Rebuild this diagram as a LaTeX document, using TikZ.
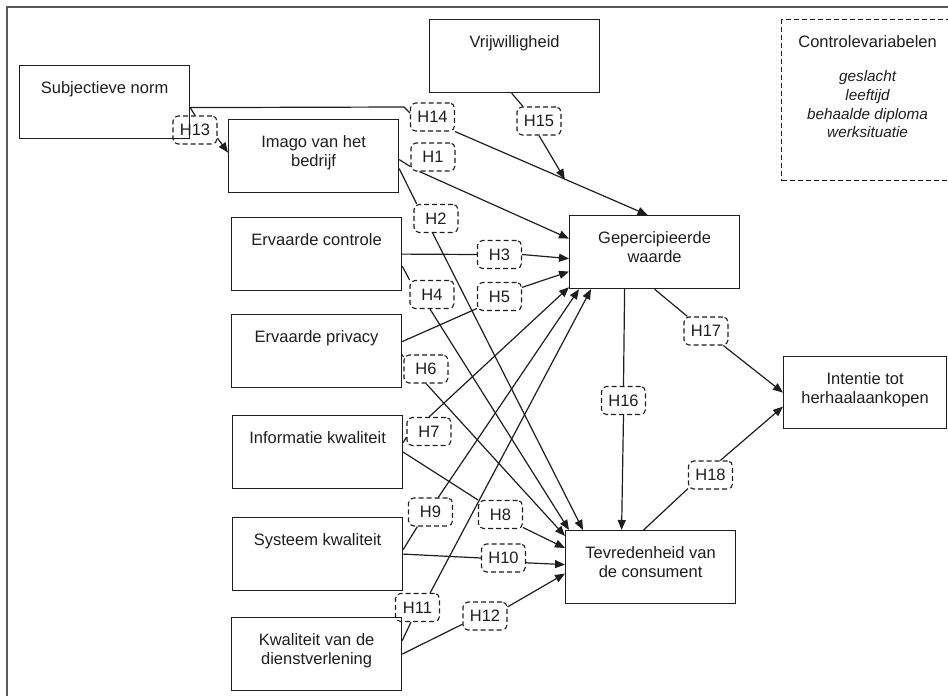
\documentclass[tikz,border=0pt]{standalone}
\usepackage{fontspec}
\setmainfont{Liberation Sans}
\usetikzlibrary{arrows.meta}
\definecolor{frameline}{HTML}{5A5A5A}
\definecolor{boxline}{HTML}{1E1E1E}

\begin{document}
\begin{tikzpicture}[x=1pt,y=-1pt,
    varbox/.style={draw=boxline,line width=1.2pt,anchor=north west,
      minimum width=170pt,minimum height=73pt,inner sep=0pt},
    vartext/.style={anchor=north,yshift=-13pt,align=center,inner sep=3pt,
      font=\fontsize{16.5}{19}\selectfont,text=boxline},
    hyp/.style={draw=boxline,line width=1.1pt,dash pattern=on 5pt off 3pt,
      rounded corners=5pt,minimum width=44pt,minimum height=28pt,inner sep=0pt,
      text=boxline,font=\fontsize{16.5}{19}\selectfont},
    link/.style={boxline,line width=1.2pt},
    arr/.style={link,-{Triangle[length=10pt,width=8pt]}}]
    \useasboundingbox (0,0) rectangle (948,696);
    \draw[frameline,line width=2pt] (7,696) -- (7,7) -- (948,7);

    % variables
    \node[varbox,label={[vartext]north:Subjectieve norm}] (sub) at (19,65) {};
    \node[varbox,label={[vartext]north:Imago van het\\bedrijf}] (imago) at (228,119) {};
    \node[varbox,label={[vartext]north:Vrijwilligheid}] (vrij) at (429,19) {};
    \node[varbox,dash pattern=on 5pt off 3pt,minimum width=172pt,minimum height=161pt,
      label={[vartext]north:Controlevariabelen},
      label={[vartext,yshift=-35.5pt,font=\fontsize{15.3}{18.7}\selectfont\itshape]north:geslacht\\leeftijd\\behaalde diploma\\werksituatie}]
      (ctrl) at (781,19) {};
    \node[varbox,label={[vartext]north:Ervaarde controle}] (ervc) at (231,217) {};
    \node[varbox,label={[vartext]north:Ervaarde privacy}] (ervp) at (231,314) {};
    \node[varbox,label={[vartext]north:Informatie kwaliteit}] (info) at (232,415) {};
    \node[varbox,label={[vartext]north:Systeem kwaliteit}] (sys) at (232,517) {};
    \node[varbox,label={[vartext]north:Kwaliteit van de\\dienstverlening}] (kwal) at (231,617) {};
    \node[varbox,label={[vartext]north:Gepercipieerde\\waarde}] (gep) at (569,215) {};
    \node[varbox,minimum width=163pt,minimum height=72pt,
      label={[vartext]north:Intentie tot\\herhaalaankopen}] (int) at (783,356) {};
    \node[varbox,label={[vartext]north:Tevredenheid van\\de consument}] (tev) at (565,530) {};

    % hypotheses
    \node[hyp] (h1) at (433,157) {H1};
    \node[hyp] (h2) at (436,218.5) {H2};
    \node[hyp] (h3) at (499.5,254.5) {H3};
    \node[hyp] (h4) at (432,294.5) {H4};
    \node[hyp] (h5) at (499.5,296.5) {H5};
    \node[hyp] (h6) at (426,369) {H6};
    \node[hyp] (h7) at (429,431.5) {H7};
    \node[hyp] (h8) at (500.5,514.5) {H8};
    \node[hyp] (h9) at (430.5,512) {H9};
    \node[hyp] (h10) at (503.5,558) {H10};
    \node[hyp] (h11) at (417.5,607.5) {H11};
    \node[hyp] (h12) at (485,616) {H12};
    \node[hyp] (h13) at (195,130) {H13};
    \node[hyp] (h14) at (432.5,117) {H14};
    \node[hyp] (h15) at (539,121) {H15};
    \node[hyp] (h16) at (623.5,400.5) {H16};
    \node[hyp] (h17) at (706,331) {H17};
    \node[hyp] (h18) at (710.5,475) {H18};

    % paths
    \draw[link] ([yshift=-5.5pt]sub.east) -- (h13.north);
    \draw[arr] (h13.-20) -- ([yshift=3.5pt]imago.west);
    \draw[link] ([yshift=-5.5pt]sub.east) -- ([xshift=-6pt,yshift=10pt]h14.west)
      -- ([yshift=4pt]h14.west);
    \draw[arr] (h14.south east) -- coordinate[pos=0.57] (m15) ([xshift=-7pt]gep.north);
    \draw[link] ([xshift=-3pt]vrij.south) -- ([xshift=-16pt]h15.north);
    \draw[arr] (h15.south) -- (m15);
    \draw[link] ([yshift=-3.5pt]imago.east) -- (h1.203);
    \draw[arr] (h1.227) -- ([yshift=13.5pt]gep.west);
    \draw[link] ([yshift=-12.5pt]imago.east) -- (h2.143);
    \draw[arr] (h2.257) -- ([xshift=18pt]tev.north west);
    \draw[link] (ervc.east) -- (h3.west);
    \draw[arr] (h3.east) -- ([yshift=-6.5pt]gep.west);
    \draw[link] ([yshift=-12pt]ervc.east) -- (h4.147);
    \draw[arr] (h4.262) -- ([xshift=4pt]tev.north west);
    \draw[link] ([yshift=9.5pt]ervp.east) -- (h5.208);
    \draw[arr] (h5.22) -- ([yshift=-19.5pt]gep.west);
    \draw[link] ([yshift=-3.5pt]ervp.east) -- (h6.152);
    \draw[arr] (h6.south) -- ([yshift=-6pt]tev.north west);
    \draw[link] ([yshift=9.5pt]info.east) -- (h7.194);
    \draw[arr] (h7.north) -- ([yshift=2pt]gep.south west);
    \draw[link] (info.east) -- (h8.north west);
    \draw[arr] (h8.-30) -- ([yshift=-18pt]tev.north west);
    \draw[link] ([yshift=4.5pt]sys.east) -- (h9.228);
    \draw[arr] (h9.62) -- ([xshift=10pt]gep.south west);
    \draw[link] (sys.east) -- (h10.west);
    \draw[arr] (h10.-12) -- ([yshift=2.5pt]tev.west);
    \draw[link] ([yshift=13.5pt]kwal.east) -- (h11.246);
    \draw[arr] (h11.49) -- ([xshift=22pt]gep.south west);
    \draw[link] (kwal.east) -- (h12.200);
    \draw[arr] (h12.22) -- ([yshift=-6.5pt]tev.west);
    \draw[link] ([xshift=-30pt]gep.south) -- (h16.north);
    \draw[arr] (h16.south) -- ([xshift=-29pt]tev.north);
    \draw[link] (gep.south) -- (h17.142);
    \draw[arr] (h17.-40) -- (int.west);
    \draw[link] ([xshift=-7pt]tev.north) -- (h18.211);
    \draw[arr] (h18.56) -- ([yshift=-14pt]int.west);
  \end{tikzpicture}
\end{document}
